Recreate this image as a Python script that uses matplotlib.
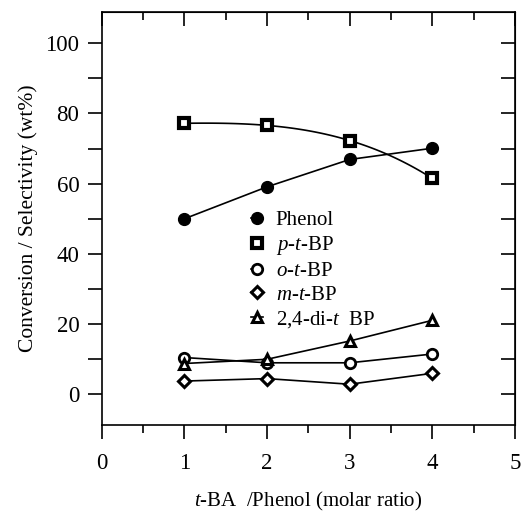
import matplotlib
matplotlib.use('Agg')
import matplotlib.pyplot as plt
import numpy as np

plt.rcParams['font.family'] = 'Liberation Serif'
plt.rcParams['mathtext.fontset'] = 'custom'
plt.rcParams['mathtext.rm'] = 'Liberation Serif'
plt.rcParams['mathtext.it'] = 'Liberation Serif:italic'

ratio = [1, 2, 3, 4]
phenol = [50.0, 59.1, 66.9, 70.1]
p_t_bp = [77.2, 76.6, 72.3, 61.5]
o_t_bp = [10.5, 9.0, 9.0, 11.5]
m_t_bp = [3.8, 4.5, 2.9, 6.0]
di_t_bp = [8.8, 10.0, 15.2, 21.1]

fig = plt.figure(figsize=(5.21, 5.12), dpi=100)
ax = fig.add_axes([0.195, 0.170, 0.7935, 0.8066])

#smooth curve for p-t-BP
xs = np.linspace(1, 4, 100)
c_p = np.polyfit(ratio, p_t_bp, 3)
ax.plot(xs, np.polyval(c_p, xs), 'k-', lw=1.2)

ax.plot(ratio, phenol, 'ko', ms=8.5, ls='-', lw=1.2, label='Phenol')
ax.plot(ratio, p_t_bp, 's', color='k', mfc='white', mew=3, ms=7, ls='none',
        label=r'$\it{p}$-$\it{t}$-BP')
ax.plot(ratio, o_t_bp, 'o', color='k', mfc='white', mew=2, ms=7.5, ls='-', lw=1.2,
        label=r'$\it{o}$-$\it{t}$-BP')
ax.plot(ratio, m_t_bp, 'D', color='k', mfc='white', mew=2.2, ms=6.5, ls='-', lw=1.2,
        label=r'$\it{m}$-$\it{t}$-BP')
ax.plot(ratio, di_t_bp, '^', color='k', mfc='white', mew=2.2, ms=7.5, ls='-', lw=1.2,
        label=r'2,4-di-$\it{t}$  BP')

ax.set_xlim(0, 5)
ax.set_ylim(-8.7, 108.9)
ax.set_xticks([0, 1, 2, 3, 4, 5])
ax.set_xticks(np.arange(0.5, 5, 1), minor=True)
ax.set_yticks([0, 20, 40, 60, 80, 100])
ax.set_yticks([10, 30, 50, 70, 90], minor=True)
ax.tick_params(which='both', direction='out', labelsize=16.5, width=1.2)
ax.tick_params(axis='x', which='major', length=10, pad=10)
ax.tick_params(axis='x', which='minor', length=6)
ax.tick_params(axis='y', which='both', length=10, pad=6)
for s in ax.spines.values():
    s.set_linewidth(1.2)

#inward ticks on top and right
top = ax.secondary_xaxis('top')
top.set_xticks([0, 1, 2, 3, 4, 5])
top.set_xticks(np.arange(0.5, 5, 1), minor=True)
top.tick_params(which='both', direction='in', labeltop=False, width=1.2)
top.tick_params(which='major', length=10)
top.tick_params(which='minor', length=6)
right = ax.secondary_yaxis('right')
right.set_yticks([0, 20, 40, 60, 80, 100])
right.set_yticks([10, 30, 50, 70, 90], minor=True)
right.tick_params(which='both', direction='in', labelright=False, length=10, width=1.2)

ax.set_xlabel(r'$\it{t}$-BA  /Phenol (molar ratio)', fontsize=15, labelpad=12)
ax.set_ylabel('Conversion / Selectivity (wt%)', fontsize=15.5, labelpad=5)

handles, labels = ax.get_legend_handles_labels()
ax.legend(handles, labels, loc='upper left', bbox_to_anchor=(0.315, 0.565), frameon=False,
          fontsize=15, handlelength=0.6, handletextpad=0.6, labelspacing=0.2)

fig.savefig('out.png', dpi=100)
